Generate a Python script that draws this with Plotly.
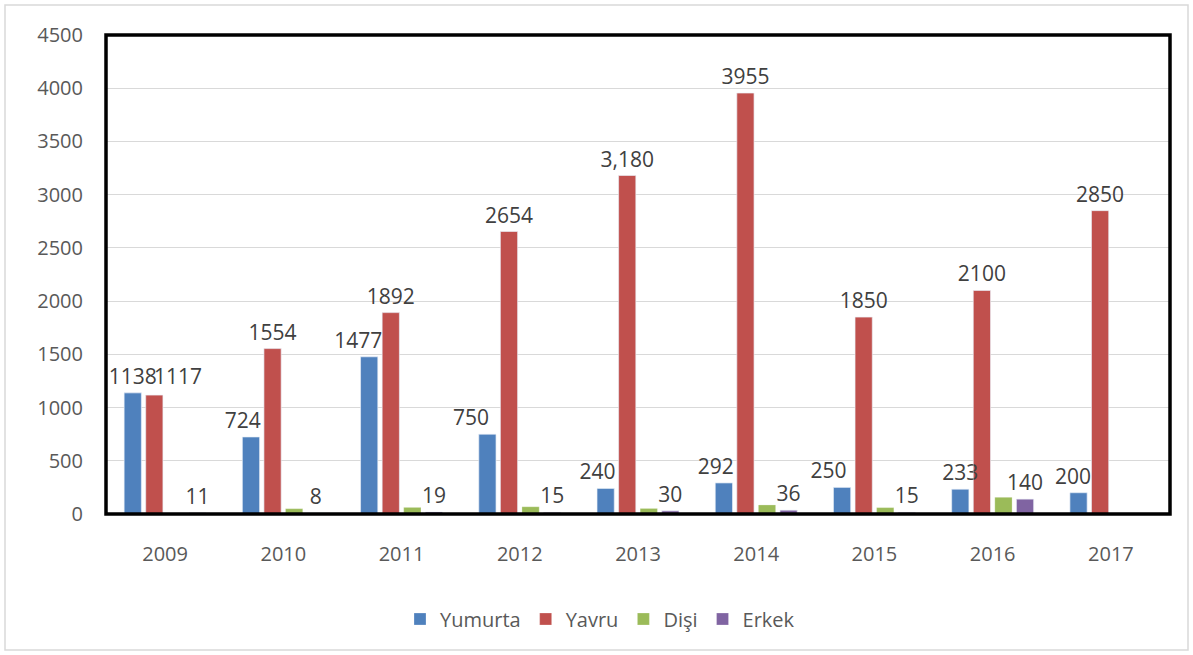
import plotly.graph_objects as go

years = ["2009", "2010", "2011", "2012", "2013", "2014", "2015", "2016", "2017"]
yumurta = [1138, 724, 1477, 750, 240, 292, 250, 233, 200]
yavru = [1117, 1554, 1892, 2654, 3180, 3955, 1850, 2100, 2850]
disi = [8, 50, 62, 68, 52, 85, 60, 157, 0]
erkek = [11, 8, 19, 15, 30, 36, 15, 140, 0]

NB = "\u00a0"
yumurta_text = ["1138", "724" + NB * 3, "1477" + NB * 4, "750" + NB * 6, "240" + NB * 3,
                "292" + NB * 3, "250" + NB * 5, "233", "200" + NB * 2]
yavru_text = ["1117", "1554", "1892", "2654", "3,180", "3955", "1850", "2100", "2850"]
erkek_text = ["11", "8", "19", "15", "30", "36", "15", "140", ""]

colors = {"Yumurta": "#4F81BD", "Yavru": "#C0504D", "Dişi": "#9BBB59", "Erkek": "#8064A2"}
FONT = "Open Sans"
LABEL_FONT = dict(family=FONT, size=21, color="#404040")

fig = go.Figure()

# 2009 Yavru label is moved aside in the reference (annotation below)
yavru_bar_text = [""] + yavru_text[1:]

series = [("Yumurta", yumurta, yumurta_text), ("Yavru", yavru, yavru_bar_text),
          ("Dişi", disi, None), ("Erkek", erkek, erkek_text)]

# real bars
for i, (name, vals, _) in enumerate(series):
    fig.add_trace(go.Bar(
        x=years, y=vals, name=name, offsetgroup=str(i),
        marker=dict(color=colors[name], line=dict(color="rgba(255,255,255,0.5)", width=0.5)),
        textposition="none", hoverinfo="x+y+name",
    ))

# transparent bars carrying the data labels, drawn on top
for i, (name, vals, text) in enumerate(series):
    if text is None:
        continue
    fig.add_trace(go.Bar(
        x=years, y=vals, name=name + " label", offsetgroup=str(i), showlegend=False,
        marker=dict(color="rgba(0,0,0,0)"),
        text=text, textposition="outside",
        textfont=LABEL_FONT,
        constraintext="none", cliponaxis=False, hoverinfo="skip",
    ))

W, H = 1193, 655
L, R, T, B = 106, 23, 35, 141
pw, ph = W - L - R, H - T - B

def px(x):
    return (x - L) / pw

def py(y):
    return (H - B - y) / ph

# category index 0 -> "2009"
fig.add_annotation(x=0, y=yavru[0], xref="x", yref="y", text=yavru_text[0],
                   showarrow=False, xanchor="center", yanchor="bottom", xshift=13, yshift=3,
                   font=LABEL_FONT)

fig.update_layout(
    width=W, height=H,
    margin=dict(l=L, r=R, t=T, b=B),
    paper_bgcolor="white", plot_bgcolor="white",
    barmode="group", bargap=0.27, bargroupgap=0.2,
    font=dict(family=FONT, size=20, color="#595959"),
    showlegend=True,
    legend=dict(orientation="h", x=px(600), y=py(619), xanchor="center", yanchor="middle",
                font=dict(family=FONT, size=20, color="#595959"), traceorder="normal"),
    xaxis=dict(type="category", range=[-0.5, len(years) - 0.5], showgrid=False, ticks="",
               ticklabelstandoff=26, showline=False,
               tickfont=dict(family=FONT, size=20, color="#595959")),
    yaxis=dict(range=[0, 4500], dtick=500, showgrid=True, gridcolor="#D9D9D9", gridwidth=1,
               zeroline=False, showline=False, ticks="", ticklabelstandoff=22,
               tickfont=dict(family=FONT, size=20, color="#595959")),
    shapes=[
        dict(type="rect", xref="paper", yref="paper", x0=px(5), x1=px(1188), y0=py(650), y1=py(5),
             line=dict(color="#D9D9D9", width=1.5), layer="below"),
        dict(type="rect", xref="paper", yref="paper", x0=0, x1=1, y0=0, y1=1,
             line=dict(color="black", width=3.5), layer="above"),
    ],
)

fig.write_html("out.html", config={"displayModeBar": False},
               post_script="document.body.style.margin='0px';")
